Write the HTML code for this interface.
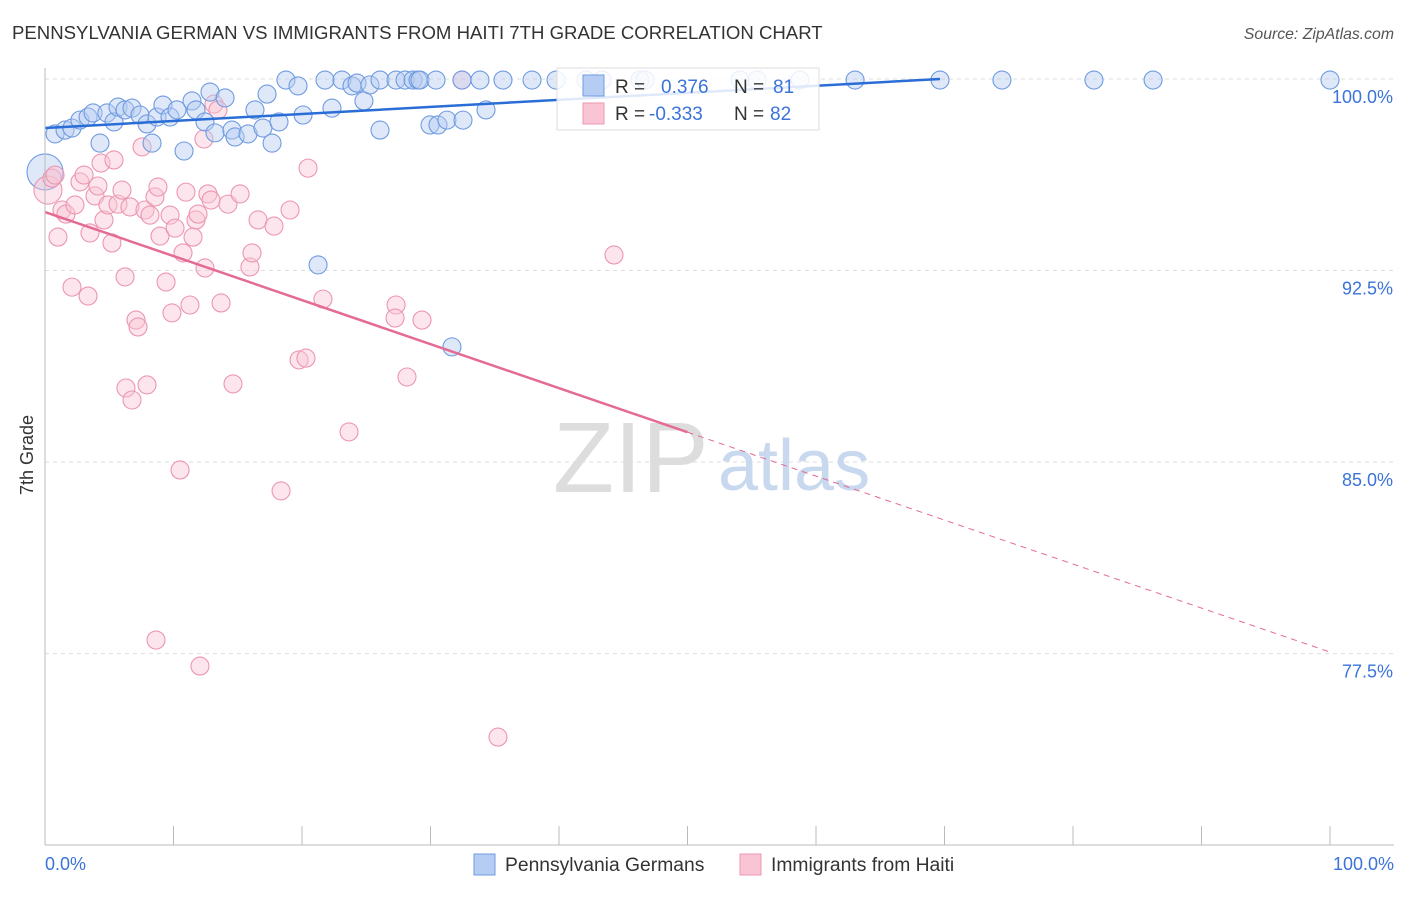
<!DOCTYPE html>
<html><head><meta charset="utf-8"><style>
body{margin:0;background:#fff;font-family:"Liberation Sans",sans-serif;}
svg text{font-family:"Liberation Sans",sans-serif;}
</style></head><body>
<svg id="chart" width="1406" height="892">
<text x="12" y="39" font-size="18.6" fill="#333">PENNSYLVANIA GERMAN VS IMMIGRANTS FROM HAITI 7TH GRADE CORRELATION CHART</text>
<text x="1394" y="39" font-size="15.8" fill="#555" font-style="italic" text-anchor="end">Source: ZipAtlas.com</text>
<g id="grid"></g>
<text x="553" y="492" font-size="100" fill="#ddd" font-family="Liberation Serif">ZIP</text>
<text x="718" y="490" font-size="72" fill="#c8d8ee">atlas</text>
<g id="pts"></g>
<g id="lines"></g>
<g id="axes"></g>
<text x="33" y="455" font-size="18" fill="#333" transform="rotate(-90 33 455)" text-anchor="middle">7th Grade</text>
<g>
<rect x="557" y="68" width="262" height="62" fill="#fff" fill-opacity="0.85" stroke="#ddd"/>
<rect x="583" y="75" width="21" height="21" fill="#b5cdf2" stroke="#6f9be0"/>
<text x="615" y="93" font-size="19" fill="#333">R = </text><text x="661" y="93" font-size="19" fill="#3b73d9">0.376</text>
<text x="734" y="93" font-size="19" fill="#333">N = </text><text x="773" y="93" font-size="19" fill="#3b73d9">81</text>
<rect x="583" y="103" width="21" height="21" fill="#f9c5d4" stroke="#ec96b0"/>
<text x="615" y="120" font-size="19" fill="#333">R = </text><text x="649" y="120" font-size="19" fill="#3b73d9">-0.333</text>
<text x="734" y="120" font-size="19" fill="#333">N = </text><text x="770" y="120" font-size="19" fill="#3b73d9">82</text>
</g>
<g>
<rect x="474" y="854" width="21" height="21" fill="#b5cdf2" stroke="#6f9be0"/>
<text x="505" y="871" font-size="19.3" fill="#333">Pennsylvania Germans</text>
<rect x="740" y="854" width="21" height="21" fill="#f9c5d4" stroke="#ec96b0"/>
<text x="771" y="871" font-size="19.3" fill="#333">Immigrants from Haiti</text>
</g>
</svg>
<script>
const yTicks=[100,92.5,85,77.5];
const yTickLabels=["100.0%","92.5%","85.0%","77.5%"];
const blueX=[0.78,1.56,2.10,2.72,3.35,3.74,4.28,4.82,5.37,5.68,6.23,6.77,7.39,7.94,8.33,8.72,9.18,9.73,10.27,10.82,11.44,11.75,12.45,12.84,13.23,14.01,14.55,14.79,15.80,16.34,16.96,17.28,17.67,18.21,18.75,19.69,20.08,21.25,21.79,22.33,23.11,23.89,24.28,24.82,25.29,26.07,26.07,27.32,28.02,28.64,29.03,29.18,30.43,29.96,30.58,31.28,31.67,32.53,32.45,33.85,34.32,35.64,37.90,39.77,42.10,43.35,46.30,46.69,54.09,55.41,58.75,63.04,69.65,74.47,81.63,86.23,100];
const blueY=[97.85,98.00,98.08,98.39,98.51,98.67,97.49,98.67,98.32,98.90,98.79,98.86,98.59,98.24,97.49,98.51,98.98,98.51,98.79,97.18,99.14,98.79,98.32,99.49,97.89,99.26,98.00,97.73,97.85,98.79,98.08,99.41,97.49,98.32,99.96,99.73,98.59,92.72,99.96,98.86,99.96,99.73,99.84,99.14,99.77,98.00,99.96,99.96,99.96,99.96,99.96,99.96,99.96,98.20,98.20,98.39,89.51,98.39,99.96,99.96,98.79,99.96,99.96,99.96,99.96,99.96,99.96,99.96,99.96,99.96,99.96,99.96,99.96,99.96,99.96,99.96,99.96];
const pinkX=[0.54,0.78,1.01,1.32,1.63,2.10,2.33,2.72,3.04,3.35,3.50,3.89,4.12,4.36,4.59,4.90,5.21,5.37,5.68,5.99,6.23,6.30,6.61,6.77,7.08,7.24,7.55,7.78,7.94,8.17,8.56,8.64,8.79,8.95,9.42,9.73,9.88,10.12,10.51,10.74,10.97,11.28,11.52,11.75,11.91,12.06,12.45,12.68,12.92,13.15,13.46,13.70,14.24,14.63,15.18,15.95,16.11,16.58,17.82,18.37,19.07,19.77,20.31,20.47,21.63,23.66,27.32,27.24,28.17,29.34,32.45,35.25,44.28,12.37];
const pinkY=[96.12,96.24,93.81,94.87,94.71,91.85,95.07,95.97,96.24,91.50,93.97,95.42,95.81,96.71,94.48,95.07,93.58,96.83,95.10,95.65,92.25,87.90,94.99,87.43,90.56,90.29,97.34,94.87,88.02,94.67,95.38,78.03,95.77,93.85,92.05,94.67,90.84,94.16,84.69,93.19,95.57,91.15,93.81,94.48,94.71,77.01,92.60,95.50,95.26,99.02,98.79,91.23,95.10,88.06,95.50,92.64,93.19,94.48,94.24,83.87,94.87,89.00,89.07,96.51,91.38,86.18,91.15,90.64,88.33,90.56,99.96,74.23,93.11,97.65];
const blueTrend=[[0,98.08],[69.65,100]];
const pinkTrend=[[0,94.79],[50,86.17],[100,77.56]];
const NS="http://www.w3.org/2000/svg";
const X=v=>45+v*12.85, Y=v=>79+(100-v)/0.03916;
function mk(t,a,p){const e=document.createElementNS(NS,t);for(const k in a)e.setAttribute(k,a[k]);p.appendChild(e);return e;}
const grid=document.getElementById('grid'),axes=document.getElementById('axes'),pts=document.getElementById('pts'),lines=document.getElementById('lines');
yTicks.forEach((t,i)=>{
 const l=mk('line',{x1:45,x2:1394,y1:Y(t),y2:Y(t),stroke:'#ddd','stroke-dasharray':'4,4'},grid);
 
 
 const tx=mk('text',{x:1393,y:Y(t)+24,'font-size':18,fill:'#3b73d9','text-anchor':'end'},axes);
 tx.textContent=yTickLabels[i];
 
 
});
mk('line',{x1:45,x2:45,y1:68,y2:845,stroke:'#bbb'},axes);
mk('line',{x1:45,x2:1394,y1:845,y2:845,stroke:'#bbb'},axes);
for(let i=0;i<=10;i++){const t=mk('line',{x1:X(i*10),x2:X(i*10),y1:826,y2:845,stroke:'#bbb'},axes);
 
 }
const xl=mk('text',{x:45,y:870,'font-size':18,fill:'#3b73d9'},axes);xl.textContent='0.0%';


const xr=mk('text',{x:1394,y:870,'font-size':18,fill:'#3b73d9','text-anchor':'end'},axes);xr.textContent='100.0%';


function dot(x,y,r,fill,stroke,name){const c=mk('circle',{cx:X(x),cy:Y(y),r:r,fill:fill,'fill-opacity':0.45,stroke:stroke,'stroke-width':1.1},pts);
 
 }
dot(0,96.36,18,'#b5cdf2','#6f9be0','blue-point-large');
dot(0.23,95.65,14,'#f9c5d4','#ec96b0','pink-point-large');
pinkX.forEach((x,i)=>dot(x,pinkY[i],9,'#f9c5d4','#ec96b0','pink-point'));
blueX.forEach((x,i)=>dot(x,blueY[i],9,'#b5cdf2','#6f9be0','blue-point'));
const bl=mk('line',{x1:X(blueTrend[0][0]),y1:Y(blueTrend[0][1]),x2:X(blueTrend[1][0]),y2:Y(blueTrend[1][1]),stroke:'#2a6dd6','stroke-width':2.5},lines);


const pl=mk('line',{x1:X(pinkTrend[0][0]),y1:Y(pinkTrend[0][1]),x2:X(pinkTrend[1][0]),y2:Y(pinkTrend[1][1]),stroke:'#e46b93','stroke-width':2.5},lines);


const pd=mk('line',{x1:X(pinkTrend[1][0]),y1:Y(pinkTrend[1][1]),x2:X(pinkTrend[2][0]),y2:Y(pinkTrend[2][1]),stroke:'#e46b93','stroke-width':1,'stroke-dasharray':'6,5'},lines);


</script>
</body></html>
